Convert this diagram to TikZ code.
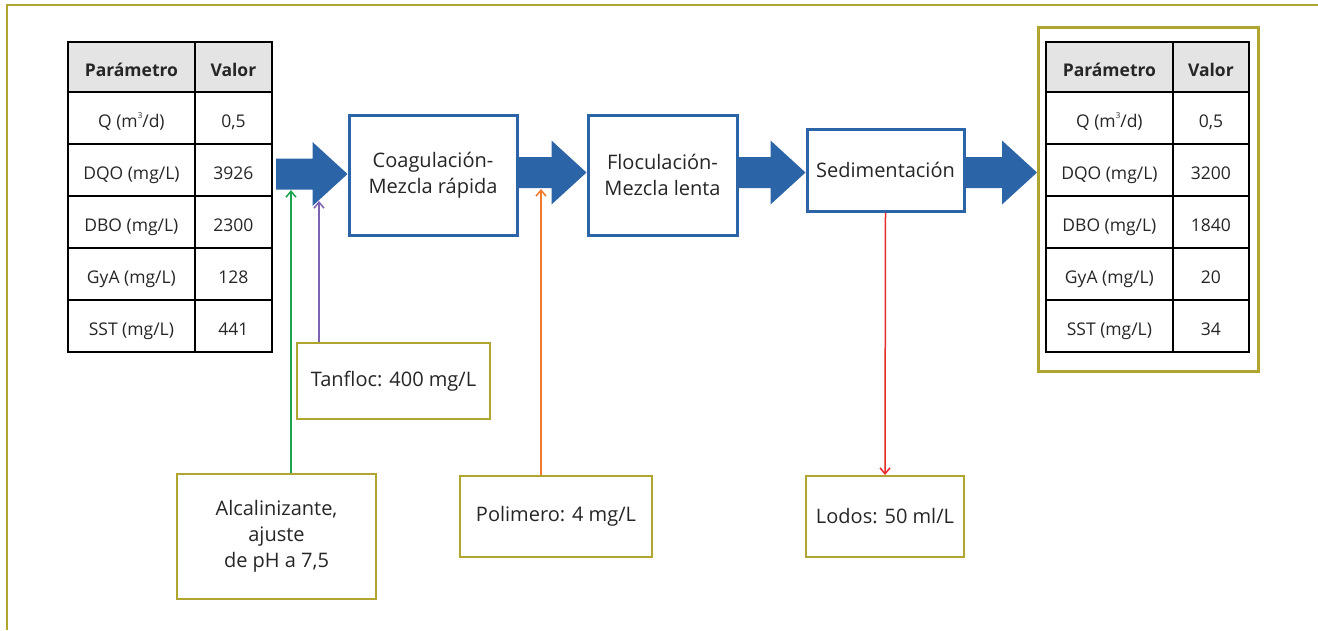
\documentclass[tikz,border=0pt]{standalone}
\usepackage{fontspec}
\setmainfont{Open Sans}
\usetikzlibrary{arrows.meta,calc}
\definecolor{flowblue}{HTML}{2B65A8}
\definecolor{olivec}{HTML}{B0A52E}
\definecolor{hdrgray}{HTML}{E4E4E4}
\definecolor{agreen}{HTML}{1BA34F}
\definecolor{apurple}{HTML}{7E63B3}
\definecolor{aorange}{HTML}{F2792B}
\definecolor{ared}{HTML}{E52B2B}
\definecolor{txt}{HTML}{262626}
\newcommand\fatarrow[2]{%
  \fill[flowblue] let \p1=(#1), \p2=(#2) in
  (\x1,\y1+15.5pt) -- (\x2-35pt,\y1+15.5pt) -- (\x2-35pt,\y1+32pt) -- (\x2,\y1)
  -- (\x2-35pt,\y1-32pt) -- (\x2-35pt,\y1-15.5pt) -- (\x1,\y1-15.5pt) -- cycle;}
\newcommand\cubed{\raisebox{0.55em}{\fontsize{8}{8}\selectfont 3}}
\tikzset{
  cell/.style={draw=black, line width=1.8pt, anchor=north west, inner sep=0pt,
    minimum height=52pt, text=txt, text height=20pt, text depth=0pt,
    font=\fontsize{17.5}{20}\selectfont},
  hcell/.style={cell, minimum height=50pt, fill=hdrgray, font=\bfseries\fontsize{17.5}{20}\selectfont},
  cA/.style={minimum width=127pt},
  cB/.style={minimum width=77pt},
  proc/.style={draw=flowblue, line width=3pt, fill=white, align=center, inner sep=0pt,
    text=txt, font=\fontsize{20}{26}\selectfont},
  note/.style={draw=olivec, line width=2pt, fill=white, align=center, inner sep=0pt,
    text=txt, font=\fontsize{20}{26}\selectfont},
  thinarrow/.style={line width=1.5pt, -{Straight Barb[length=6pt,width=10pt]}},
}
\begin{document}
\begin{tikzpicture}[x=1pt,y=-1pt]
\useasboundingbox (0,0) rectangle (1318,630);
\fill[white] (0,0) rectangle (1318,630);
\draw[olivec, line width=1.8pt] (7,630) -- (7,5) -- (1318,5);

% left table
\node[hcell,cA] (lh1) at (67,41) {Parámetro};
\node[hcell,cB] (lh2) at (194,41) {Valor};
\node[cell,cA] (l1a) at (67,91) {Q (m\cubed/d)};
\node[cell,cB] (l1b) at (194,91) {0,5};
\node[cell,cA] (l2a) at (67,143) {DQO (mg/L)};
\node[cell,cB] (l2b) at (194,143) {3926};
\node[cell,cA] (l3a) at (67,195) {DBO (mg/L)};
\node[cell,cB] (l3b) at (194,195) {2300};
\node[cell,cA] (l4a) at (67,247) {GyA (mg/L)};
\node[cell,cB] (l4b) at (194,247) {128};
\node[cell,cA] (l5a) at (67,299) {SST (mg/L)};
\node[cell,cB] (l5b) at (194,299) {441};

% right table with frame
\node[draw=olivec, line width=2.5pt, fill=white, anchor=north west, inner sep=0pt,
  minimum width=220pt, minimum height=344pt] (rframe) at (1037,26) {};
\node[hcell,cA] (rh1) at (1045,41) {Parámetro};
\node[hcell,cB,minimum width=76pt] (rh2) at (1172,41) {Valor};
\node[cell,cA] (r1a) at (1045,91) {Q (m\cubed/d)};
\node[cell,cB,minimum width=76pt] (r1b) at (1172,91) {0,5};
\node[cell,cA] (r2a) at (1045,143) {DQO (mg/L)};
\node[cell,cB,minimum width=76pt] (r2b) at (1172,143) {3200};
\node[cell,cA] (r3a) at (1045,195) {DBO (mg/L)};
\node[cell,cB,minimum width=76pt] (r3b) at (1172,195) {1840};
\node[cell,cA] (r4a) at (1045,247) {GyA (mg/L)};
\node[cell,cB,minimum width=76pt] (r4b) at (1172,247) {20};
\node[cell,cA] (r5a) at (1045,299) {SST (mg/L)};
\node[cell,cB,minimum width=76pt] (r5b) at (1172,299) {34};

% process boxes
\node[proc, minimum width=168pt, minimum height=120pt] (coag) at (433,175) {Coagulación-\\Mezcla rápida};
\node[proc, minimum width=149pt, minimum height=120pt] (floc) at (662.5,175) {Floculación-\\Mezcla lenta};
\node[proc, minimum width=157pt, minimum height=82pt] (sed) at (885.5,170) {Sedimentación};

% note boxes
\node[note, minimum width=193pt, minimum height=76pt] (tan) at (393.5,381) {Tanfloc: 400 mg/L};
\node[note, minimum width=199pt, minimum height=125pt] (alc) at (276.5,536.5) {Alcalinizante,\\ajuste\\de pH a 7,5};
\node[note, minimum width=192pt, minimum height=81pt] (pol) at (556,516.5) {Polimero: 4 mg/L};
\node[note, minimum width=158pt, minimum height=81pt] (lod) at (885,516.5) {Lodos: 50 ml/L};

% fat flow arrows
\coordinate (axis) at (0,172.5);
\coordinate (in1) at (276,174);
\fatarrow{in1}{coag.west |- in1}
\fatarrow{coag.east |- axis}{floc.west |- axis}
\fatarrow{floc.east |- axis}{sed.west |- axis}
\fatarrow{sed.east |- axis}{rframe.west |- axis}

% dosing arrows
\coordinate (gtip) at (291,190);
\coordinate (ptip) at (319,201);
\coordinate (otip) at (541,189);
\draw[thinarrow, agreen] (alc.north -| gtip) -- (gtip);
\draw[thinarrow, apurple] (tan.north -| ptip) -- (ptip);
\draw[thinarrow, aorange] (pol.north -| otip) -- (otip);
\draw[thinarrow, ared] (sed.south) -- (lod.north);
\end{tikzpicture}
\end{document}
